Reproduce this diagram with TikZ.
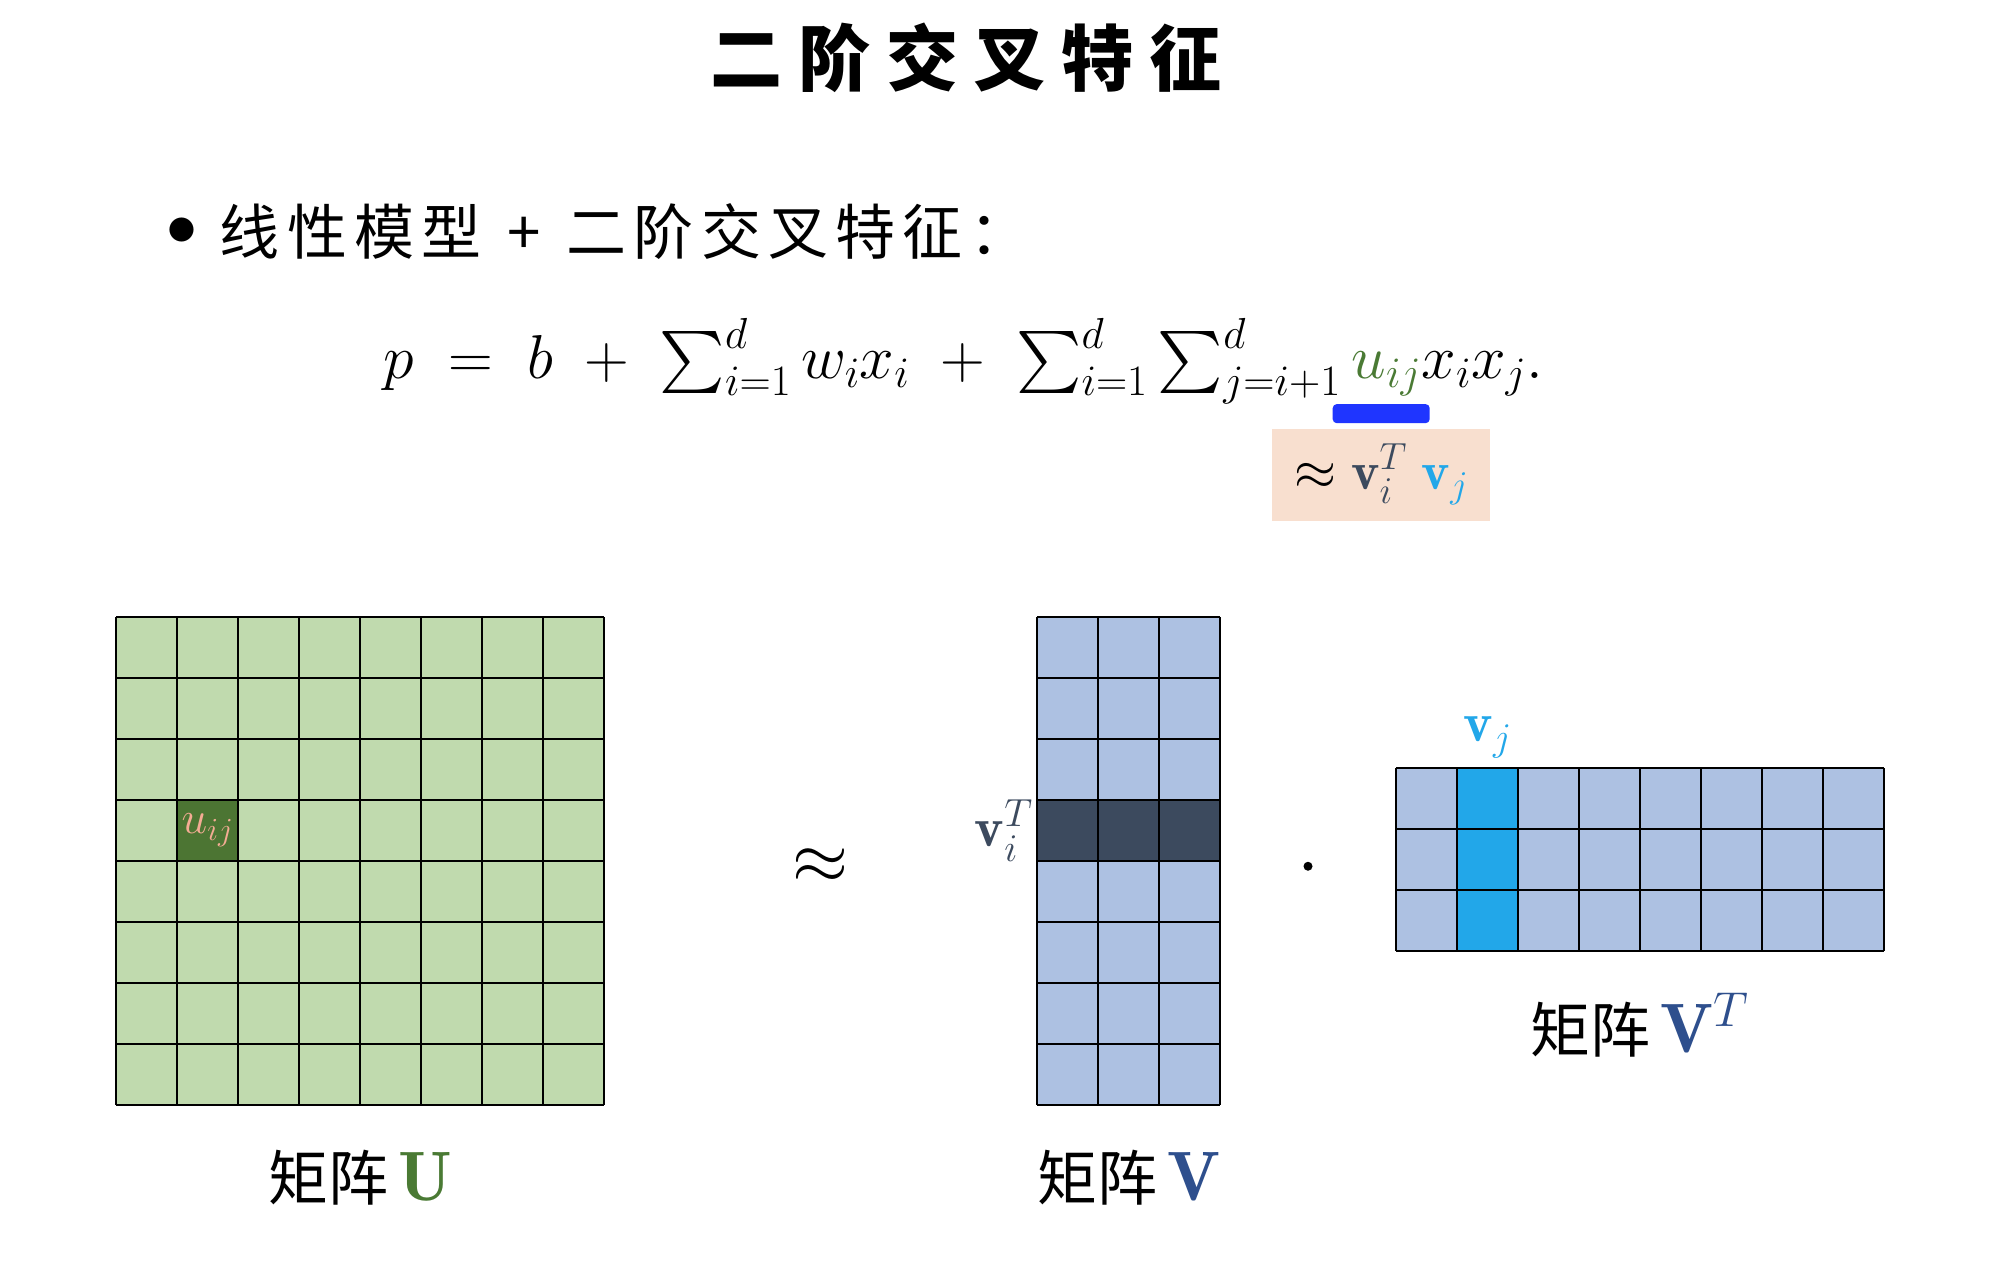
\RequirePackage{fix-cm}
\documentclass[tikz,border=0pt]{standalone}
\usepackage{amsmath}
\usepackage{fontspec}
\usetikzlibrary{positioning,calc}
\DeclareFontFamily{OMX}{cmex}{}
\DeclareFontShape{OMX}{cmex}{m}{n}{<->cmex10}{}
\newfontfamily\cjk{Noto Sans CJK SC}
\definecolor{MatGreen}{HTML}{C0DAAE}
\definecolor{MatGreenDark}{HTML}{4C7533}
\definecolor{MatBlue}{HTML}{ADC1E2}
\definecolor{MatSlate}{HTML}{3C4A5E}
\definecolor{MatSky}{HTML}{22A7E9}
\definecolor{MatPeach}{HTML}{F4AC94}
\definecolor{LabelGreen}{HTML}{4A7A34}
\definecolor{LabelNavy}{HTML}{2E4F8D}
\definecolor{BarBlue}{HTML}{1F35FF}
\definecolor{BoxPeach}{HTML}{F8DFCF}

\begin{document}
\begin{tikzpicture}[x=1pt,y=-1pt,node distance=6pt]
    \tikzset{gridline/.style={line width=2.2pt,black},
      cjktext/.style={inner sep=0pt,font=\cjk\fontsize{60}{60}\selectfont},
      mathtext/.style={inner sep=0pt,font=\fontsize{62}{62}\selectfont},
      matbox/.style={inner sep=0pt,outer sep=0pt,anchor=north west}}
    \useasboundingbox[fill=white] (0,0) rectangle (1998,1264);
    % heading and formula
    \node[inner sep=0pt,font=\cjk\bfseries\fontsize{72}{72}\selectfont\addfontfeature{LetterSpace=22}] (title) at (966,58) {二阶交叉特征};
    \node[mathtext] (bul) at (182,232) {$\bullet$};
    \node[cjktext,font=\cjk\fontsize{60}{60}\selectfont\addfontfeature{LetterSpace=12},right=22pt of bul] (point) {线性模型\hspace{26pt}+\hspace{26pt}二阶交叉特征：};
    \node[mathtext,anchor=base west] (sums) at (383,378) {$p \;=\; b \;+\; \sum_{i=1}^{d} w_i x_i \;+\; \sum_{i=1}^{d}\sum_{j=i+1}^{d}$};
    \node[mathtext,anchor=base west,text=LabelGreen] (uij) at (sums.base east) {$\,u_{ij}$};
    \node[mathtext,anchor=base west] (xij) at (uij.base east) {$x_i x_j.$};
    \node[fill=BarBlue,rounded corners=4pt,minimum width=97pt,minimum height=19pt,inner sep=0pt,below=8pt of uij] (bar) {};
    \node[fill=BoxPeach,minimum width=218pt,minimum height=92pt,inner sep=0pt,below=5pt of bar,font=\fontsize{54}{54}\selectfont] (approx)
      {$\approx \textcolor{MatSlate}{\mathbf{v}_i^T}\;\textcolor{MatSky}{\mathbf{v}_j}$};
    % matrix U
    \node[matbox,fill=MatGreen,minimum width=488pt,minimum height=488pt] (U) at (116,617) {};
    \node[matbox,fill=MatGreenDark,minimum size=61pt,text=MatPeach,font=\fontsize{46}{46}\selectfont] (ucell) at (177,800) {$u_{ij}$};
    \foreach \k in {0,...,8} {
      \draw[gridline] ($(U.north west)+(61*\k,0)$) -- ++(0,488);
      \draw[gridline] ($(U.north west)+(0,61*\k)$) -- ++(488,0);
    }
    % matrix V
    \node[matbox,fill=MatBlue,minimum width=183pt,minimum height=488pt] (V) at (1037,617) {};
    \node[matbox,fill=MatSlate,minimum width=183pt,minimum height=61pt] (virow) at (1037,800) {};
    \foreach \k in {0,...,3}
      \draw[gridline] ($(V.north west)+(61*\k,0)$) -- ++(0,488);
    \foreach \k in {0,...,8}
      \draw[gridline] ($(V.north west)+(0,61*\k)$) -- ++(183,0);
    \node[mathtext,text=MatSlate,left=4pt of virow,font=\fontsize{56}{56}\selectfont] (vilabel) {$\mathbf{v}_i^T$};
    % matrix V^T
    \node[matbox,fill=MatBlue,minimum width=488pt,minimum height=183pt] (VT) at (1396,768) {};
    \node[matbox,fill=MatSky,minimum width=61pt,minimum height=183pt] (vjcol) at (1457,768) {};
    \foreach \k in {0,...,8}
      \draw[gridline] ($(VT.north west)+(61*\k,0)$) -- ++(0,183);
    \foreach \k in {0,...,3}
      \draw[gridline] ($(VT.north west)+(0,61*\k)$) -- ++(488,0);
    \node[mathtext,text=MatSky,above=10pt of vjcol,font=\fontsize{56}{56}\selectfont] (vjlabel) {$\mathbf{v}_j$};
    % operators and captions
    \node[font=\fontsize{72}{72}\selectfont,inner sep=0pt] (approxop) at ($(U.east)!0.5!(V.west)+(0,5)$) {$\approx$};
    \node[circle,fill=black,minimum size=9pt,inner sep=0pt] (dotop) at ($(V.east)!0.5!(VT.west)+(0,6)$) {};
    \node[cjktext,below=45pt of U] (Ulabel) {矩阵\,\textcolor{LabelGreen}{\fontsize{70}{70}\selectfont$\mathbf{U}$}};
    \node[cjktext,below=45pt of V] (Vlabel) {矩阵\,\textcolor{LabelNavy}{\fontsize{70}{70}\selectfont$\mathbf{V}$}};
    \node[cjktext,below=42pt of VT] (VTlabel) {矩阵\,\textcolor{LabelNavy}{\fontsize{70}{70}\selectfont$\mathbf{V}^{T}$}};
  \end{tikzpicture}
\end{document}
